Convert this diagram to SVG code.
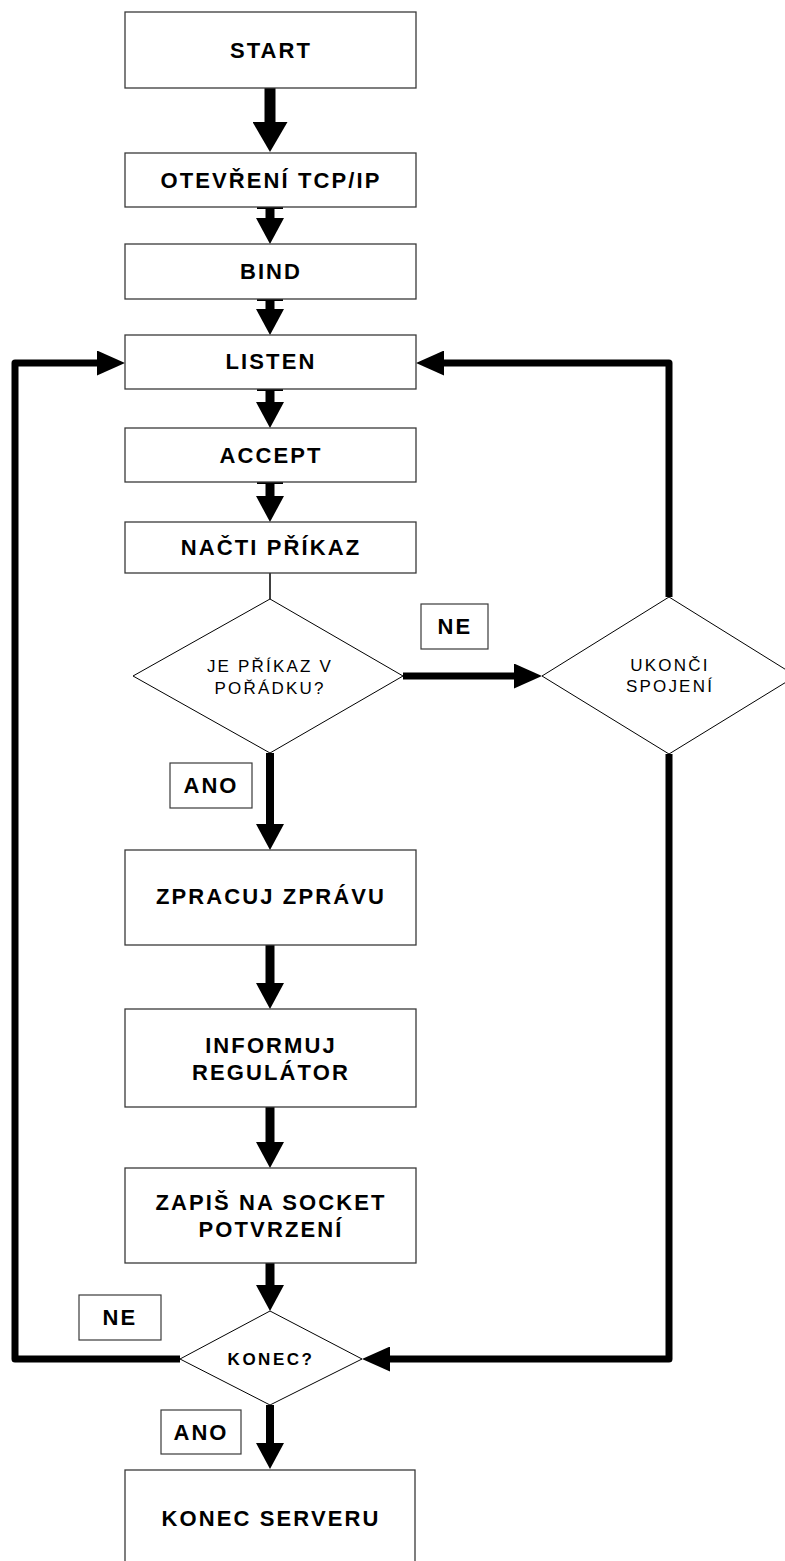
<svg xmlns="http://www.w3.org/2000/svg" width="785" height="1561" viewBox="0 0 785 1561">
<style>
.box{fill:#fff;stroke:#3a3a3a;stroke-width:1.3}
.dia{fill:#fff;stroke:#000;stroke-width:1}
.lbl{fill:#fff;stroke:#3a3a3a;stroke-width:1.2}
.t{font-family:"Liberation Sans",Arial,sans-serif;font-weight:bold;font-size:22px;letter-spacing:2.1px;fill:#000;text-anchor:middle}
.tn{font-family:"Liberation Sans",Arial,sans-serif;font-weight:normal;font-size:17px;letter-spacing:2.2px;fill:#000;text-anchor:middle}
.ts{font-family:"Liberation Sans",Arial,sans-serif;font-weight:bold;font-size:17px;letter-spacing:2.5px;fill:#000;text-anchor:middle}
.c{fill:none;stroke:#000;stroke-linejoin:round}
</style>
<defs>
<marker id="hb" markerUnits="userSpaceOnUse" markerWidth="30" markerHeight="35" refX="4" refY="17.5" orient="auto"><path d="M0,0 L30,17.5 L0,35 z" fill="#000"/></marker>
<marker id="h" markerUnits="userSpaceOnUse" markerWidth="26" markerHeight="28" refX="4" refY="14" orient="auto"><path d="M0,0 L26,14 L0,28 z" fill="#000"/></marker>
<marker id="hs" markerUnits="userSpaceOnUse" markerWidth="28" markerHeight="25" refX="4" refY="12.5" orient="auto"><path d="M0,0 L28,12.5 L0,25 z" fill="#000"/></marker>
</defs>

<g id="connectors">
<path class="c" d="M270,88 V126" stroke-width="11" marker-end="url(#hb)"/>
<path class="c" d="M270,207 V222" stroke-width="9" marker-end="url(#h)"/>
<path class="c" d="M270,299 V313" stroke-width="9" marker-end="url(#h)"/>
<path class="c" d="M270,389 V406" stroke-width="9" marker-end="url(#h)"/>
<path class="c" d="M270,482 V500" stroke-width="9" marker-end="url(#h)"/>
<path d="M257,208 H283 M257,300 H283 M257,390 H283 M257,483 H283" stroke="#000" stroke-width="2"/>
<path class="c" d="M270,573 V599" stroke-width="1.5"/>
<path class="c" d="M270,753 V828" stroke-width="8" marker-end="url(#h)"/>
<path class="c" d="M270,945 V987" stroke-width="9" marker-end="url(#h)"/>
<path class="c" d="M270,1107 V1146" stroke-width="9" marker-end="url(#h)"/>
<path class="c" d="M270,1263 V1289" stroke-width="9" marker-end="url(#h)"/>
<path class="c" d="M270,1405 V1447" stroke-width="8" marker-end="url(#h)"/>
<path class="c" d="M403,676 H518" stroke-width="7" marker-end="url(#hs)"/>
<path class="c" d="M669,597 V363 H440" stroke-width="7" marker-end="url(#hs)"/>
<path class="c" d="M669,754 V1359 H386" stroke-width="7" marker-end="url(#hs)"/>
<path class="c" d="M180,1359 H15 V363 H101" stroke-width="7" marker-end="url(#hs)"/>
</g>

<g id="start"><rect class="box" x="125" y="12" width="291" height="76"/><text class="t" x="271" y="58">START</text></g>
<g id="tcpip"><rect class="box" x="125" y="153" width="291" height="54"/><text class="t" x="271" y="188">OTEVŘENÍ TCP/IP</text></g>
<g id="bind"><rect class="box" x="125" y="244" width="291" height="55"/><text class="t" x="271" y="279">BIND</text></g>
<g id="listen"><rect class="box" x="125" y="335" width="291" height="54"/><text class="t" x="271" y="369">LISTEN</text></g>
<g id="accept"><rect class="box" x="125" y="428" width="291" height="54"/><text class="t" x="271" y="463">ACCEPT</text></g>
<g id="nacti"><rect class="box" x="125" y="522" width="291" height="51"/><text class="t" x="271" y="555">NAČTI PŘÍKAZ</text></g>
<g id="jeprikaz"><polygon class="dia" points="270,599 403,676 270,753 133,676"/><text class="tn" x="270" y="672">JE PŘÍKAZ V</text><text class="tn" x="270" y="694">POŘÁDKU?</text></g>
<g id="ne1"><rect class="lbl" x="421" y="604" width="67" height="45"/><text class="t" x="455" y="634">NE</text></g>
<g id="ukonci"><polygon class="dia" points="669,597 796,676 669,754 542,676"/><text class="tn" x="670" y="671">UKONČI</text><text class="tn" x="670" y="692">SPOJENÍ</text></g>
<g id="ano1"><rect class="lbl" x="170" y="763" width="82" height="45"/><text class="t" x="211" y="793">ANO</text></g>
<g id="zpracuj"><rect class="box" x="125" y="850" width="291" height="95"/><text class="t" x="271" y="904">ZPRACUJ ZPRÁVU</text></g>
<g id="informuj"><rect class="box" x="125" y="1009" width="291" height="98"/><text class="t" x="271" y="1053">INFORMUJ</text><text class="t" x="271" y="1080">REGULÁTOR</text></g>
<g id="zapis"><rect class="box" x="125" y="1168" width="291" height="95"/><text class="t" x="271" y="1210">ZAPIŠ NA SOCKET</text><text class="t" x="271" y="1237">POTVRZENÍ</text></g>
<g id="ne2"><rect class="lbl" x="79" y="1295" width="82" height="45"/><text class="t" x="120" y="1325">NE</text></g>
<g id="konec"><polygon class="dia" points="270,1311 362,1359 270,1405 180,1359"/><text class="ts" x="271" y="1365">KONEC?</text></g>
<g id="ano2"><rect class="lbl" x="161" y="1410" width="80" height="44"/><text class="t" x="201" y="1440">ANO</text></g>
<g id="konecserveru"><rect class="box" x="125" y="1470" width="290" height="100"/><text class="t" x="271" y="1526">KONEC SERVERU</text></g>
</svg>
